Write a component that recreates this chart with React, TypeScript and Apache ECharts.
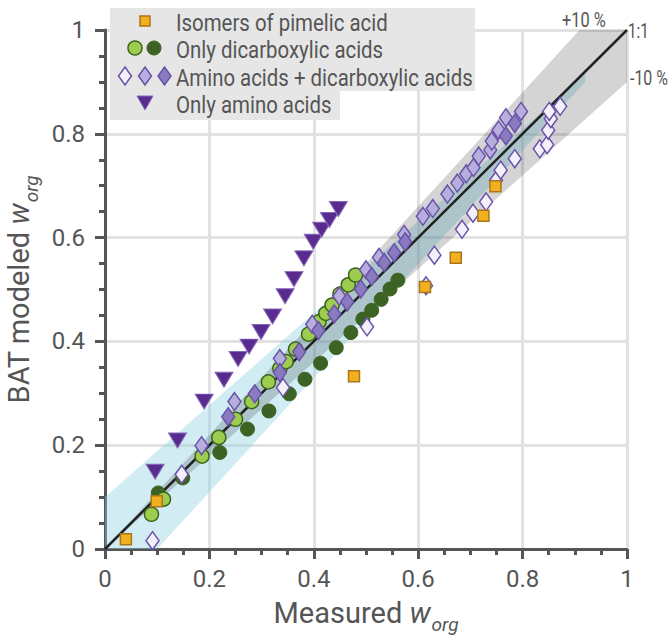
import React, { useEffect, useRef } from "react";
import * as echarts from "echarts";

// ---- Data (measured w_org, BAT modeled w_org) ----
const pimelicIsomers: number[][] = [
  [0.04, 0.019], [0.099, 0.092], [0.477, 0.333], [0.613, 0.505],
  [0.672, 0.561], [0.725, 0.642], [0.748, 0.699],
];

const dicarbLight: number[][] = [
  [0.089, 0.067], [0.112, 0.096], [0.186, 0.179], [0.218, 0.215], [0.25, 0.25],
  [0.281, 0.284], [0.313, 0.322], [0.335, 0.348], [0.347, 0.361], [0.365, 0.385],
  [0.39, 0.414], [0.41, 0.438], [0.423, 0.454], [0.435, 0.47], [0.45, 0.491],
  [0.466, 0.509], [0.48, 0.528],
];

const dicarbDark: number[][] = [
  [0.102, 0.108], [0.149, 0.137], [0.22, 0.186], [0.273, 0.231], [0.314, 0.266],
  [0.353, 0.299], [0.383, 0.327], [0.413, 0.358], [0.443, 0.388], [0.471, 0.417],
  [0.494, 0.443], [0.511, 0.46], [0.529, 0.481], [0.546, 0.501], [0.561, 0.518],
];

const aminoDicarbWhite: number[][] = [
  [0.091, 0.016], [0.147, 0.144], [0.341, 0.311], [0.502, 0.428], [0.615, 0.507],
  [0.631, 0.566], [0.684, 0.616], [0.705, 0.647], [0.73, 0.669], [0.749, 0.71],
  [0.758, 0.73], [0.785, 0.752], [0.833, 0.771], [0.847, 0.779], [0.849, 0.807],
  [0.854, 0.829], [0.851, 0.843], [0.872, 0.853],
];

const aminoDicarbLight: number[][] = [
  [0.185, 0.199], [0.248, 0.284], [0.335, 0.367], [0.397, 0.433], [0.449, 0.487],
  [0.5, 0.538], [0.525, 0.562], [0.573, 0.606], [0.609, 0.641], [0.628, 0.656],
  [0.656, 0.684], [0.675, 0.705], [0.692, 0.723], [0.706, 0.735], [0.716, 0.757],
  [0.738, 0.769], [0.741, 0.786], [0.754, 0.807], [0.768, 0.831], [0.797, 0.843],
];

const aminoDicarbMedium: number[][] = [
  [0.236, 0.255], [0.287, 0.299], [0.335, 0.34], [0.372, 0.38], [0.409, 0.421],
  [0.439, 0.453], [0.464, 0.476], [0.49, 0.501], [0.511, 0.525], [0.535, 0.552],
  [0.554, 0.571], [0.575, 0.592], [0.768, 0.796], [0.785, 0.82],
];

const onlyAmino: number[][] = [
  [0.096, 0.149], [0.139, 0.209], [0.19, 0.284], [0.228, 0.326], [0.255, 0.366],
  [0.276, 0.39], [0.299, 0.418], [0.321, 0.448], [0.345, 0.487], [0.362, 0.52],
  [0.381, 0.56], [0.399, 0.592], [0.415, 0.615], [0.43, 0.634], [0.447, 0.655],
];

const oneToOne: number[][] = [[0, 0], [1, 1]];
const tenPercentBand: number[][] = [[0, 0], [0.909, 1], [1, 1], [1, 0.9]];
const blueBand: number[][] = [[0, 0], [0, 0.1], [0.86, 0.862], [0.92, 0.916], [0.92, 0.9], [0.1, 0]];

const legendLabels = [
  "Isomers of pimelic acid",
  "Only dicarboxylic acids",
  "Amino acids + dicarboxylic acids",
  "Only amino acids",
];
const axisTicks = { min: 0, max: 1, interval: 0.2 };

const TXT = "#555555";
const FONT = "Roboto";

const C = {
  orange: "#f1b11f", orangeEdge: "#a9761c",
  lgreen: "#9dcc4f", greenEdge: "#3a641d", dgreen: "#3d6324",
  dWhite: "#f3f0fb", dLight: "#b6afdd", dMed: "#8a7ac0", dEdge: "#6a52a8",
  tri: "#5a2b8e", triEdge: "#8468b8",
};

function bandSeries(pts: number[][], fill: string, z: number) {
  return {
    type: "custom",
    data: pts,
    encode: { x: 0, y: 1 },
    silent: true,
    z,
    clip: true,
    renderItem: (params: any, api: any) => {
      if (params.dataIndex !== 0) return { type: "group", children: [] };
      const points = pts.map((p) => api.coord(p));
      return { type: "polygon", shape: { points }, style: { fill, stroke: "none" } };
    },
  };
}

function scatter(name: string, data: number[][], symbol: string, size: any, fill: string, edge: string, bw: number, z: number, rotate = 0) {
  return {
    type: "scatter",
    name,
    data,
    symbol,
    symbolSize: size,
    symbolRotate: rotate,
    z,
    itemStyle: { color: fill, borderColor: edge, borderWidth: bw, opacity: 1 },
  };
}

function richFor(size: number, sub: number, pad: number) {
  return {
    t: { fontSize: size, color: TXT, fontFamily: FONT },
    w: { fontSize: size, color: TXT, fontFamily: FONT, fontStyle: "italic" },
    s: { fontSize: sub, color: TXT, fontFamily: FONT, fontStyle: "italic", padding: [pad, 0, 0, 1] },
  };
}

export default function App() {
  const ref = useRef<HTMLDivElement>(null);
  useEffect(() => {
    if (!ref.current) return;
    const chart = echarts.init(ref.current, null, { renderer: "svg" });

    const axisCommon = {
      type: "value",
      min: axisTicks.min,
      max: axisTicks.max,
      interval: axisTicks.interval,
      nameLocation: "middle",
      axisLine: { show: true, lineStyle: { color: TXT, width: 3 } },
      axisTick: { show: true, length: 10, lineStyle: { color: TXT, width: 3 } },
      minorTick: { show: true, splitNumber: 4, length: 6, lineStyle: { color: TXT, width: 3 } },
      splitLine: { show: true, lineStyle: { color: "#e2e2e2", width: 3 } },
      axisLabel: { color: TXT, fontSize: 24, fontFamily: FONT },
    };

    const legendX = 110;
    const rowY = [21, 48, 76, 103];
    const textX = 176;
    const diamondPts = (cx: number, cy: number) => [[cx, cy - 9], [cx + 6.5, cy], [cx, cy + 9], [cx - 6.5, cy]];
    const legendGraphics: any[] = [
      { type: "rect", shape: { x: legendX, y: 8, width: 365, height: 83 }, style: { fill: "#e6e6e6" }, z: 100 },
      { type: "rect", shape: { x: legendX, y: 91, width: 230, height: 29 }, style: { fill: "#e6e6e6" }, z: 100 },
      { type: "rect", shape: { x: 140, y: rowY[0] - 5, width: 10, height: 10 }, style: { fill: C.orange, stroke: C.orangeEdge, lineWidth: 1.5 }, z: 101 },
      { type: "circle", shape: { cx: 135, cy: rowY[1], r: 7 }, style: { fill: C.lgreen, stroke: C.greenEdge, lineWidth: 1.5 }, z: 101 },
      { type: "circle", shape: { cx: 154, cy: rowY[1], r: 7 }, style: { fill: C.dgreen, stroke: C.dgreen, lineWidth: 1 }, z: 101 },
      { type: "polygon", shape: { points: diamondPts(125, rowY[2]) }, style: { fill: C.dWhite, stroke: C.dEdge, lineWidth: 1.5 }, z: 101 },
      { type: "polygon", shape: { points: diamondPts(145, rowY[2]) }, style: { fill: C.dLight, stroke: C.dEdge, lineWidth: 1.5 }, z: 101 },
      { type: "polygon", shape: { points: diamondPts(164.5, rowY[2]) }, style: { fill: C.dMed, stroke: C.dEdge, lineWidth: 1.5 }, z: 101 },
      { type: "polygon", shape: { points: [[137, rowY[3] - 7], [153, rowY[3] - 7], [145, rowY[3] + 7]] }, style: { fill: C.tri, stroke: C.triEdge, lineWidth: 1 }, z: 101 },
    ];
    legendLabels.forEach((label, i) => {
      legendGraphics.push({
        type: "text", x: textX, y: rowY[i] + 1, scaleX: 0.85, z: 102,
        style: { text: label, fill: TXT, font: `24px ${FONT}`, verticalAlign: "middle", align: "left" },
      });
    });
    const annot = (text: string, x: number, y: number, sx: number) => ({
      type: "text", x, y, scaleX: sx, z: 102,
      style: { text, fill: TXT, font: `21px ${FONT}`, verticalAlign: "middle", align: "left" },
    });

    chart.setOption({
      animation: false,
      grid: { left: 105, right: 41, top: 30, bottom: 86, containLabel: false, outerBoundsMode: "none" },
      xAxis: {
        ...axisCommon,
        name: "{t|Measured }{w|w}{s|org}",
        nameGap: 42,
        nameTextStyle: { rich: richFor(29, 19, 24) },
        axisLabel: { ...axisCommon.axisLabel, margin: 18 },
      },
      yAxis: {
        ...axisCommon,
        name: "{t|BAT modeled }{w|w}{s|org}",
        nameGap: 57,
        nameTextStyle: { rich: richFor(29, 19, 24) },
        axisLabel: { ...axisCommon.axisLabel, margin: 20 },
      },
      series: [
        bandSeries(blueBand, "rgba(140, 210, 226, 0.4)", 1),
        bandSeries(tenPercentBand, "rgba(0, 0, 0, 0.17)", 2),
        {
          type: "line", data: oneToOne, symbol: "none", z: 3, silent: true,
          lineStyle: { color: "#222222", width: 2.5 },
        },
        scatter("Only dicarboxylic acids (dark)", dicarbDark, "circle", 14, C.dgreen, C.dgreen, 1, 4),
        scatter("Only dicarboxylic acids", dicarbLight, "circle", 14, C.lgreen, C.greenEdge, 1.5, 5),
        scatter("Amino acids + dicarboxylic acids (white)", aminoDicarbWhite, "diamond", [13, 18], C.dWhite, C.dEdge, 1.5, 6),
        scatter("Amino acids + dicarboxylic acids (light)", aminoDicarbLight, "diamond", [13, 18], C.dLight, C.dEdge, 1.5, 6),
        scatter("Amino acids + dicarboxylic acids (medium)", aminoDicarbMedium, "diamond", [13, 18], C.dMed, C.dEdge, 1.5, 6),
        scatter("Isomers of pimelic acid", pimelicIsomers, "rect", 11, C.orange, C.orangeEdge, 1.5, 7),
        scatter("Only amino acids", onlyAmino, "triangle", [18, 15], C.tri, C.triEdge, 1, 8, 180),
      ],
      graphic: [
        ...legendGraphics,
        annot("+10 %", 562, 20, 0.78),
        annot("1:1", 628, 31, 0.72),
        annot("-10 %", 630, 78, 0.76),
      ],
    });
    return () => chart.dispose();
  }, []);
  return <div ref={ref} style={{ position: "absolute", left: 0, top: 0, width: 668, height: 635 }} />;
}
